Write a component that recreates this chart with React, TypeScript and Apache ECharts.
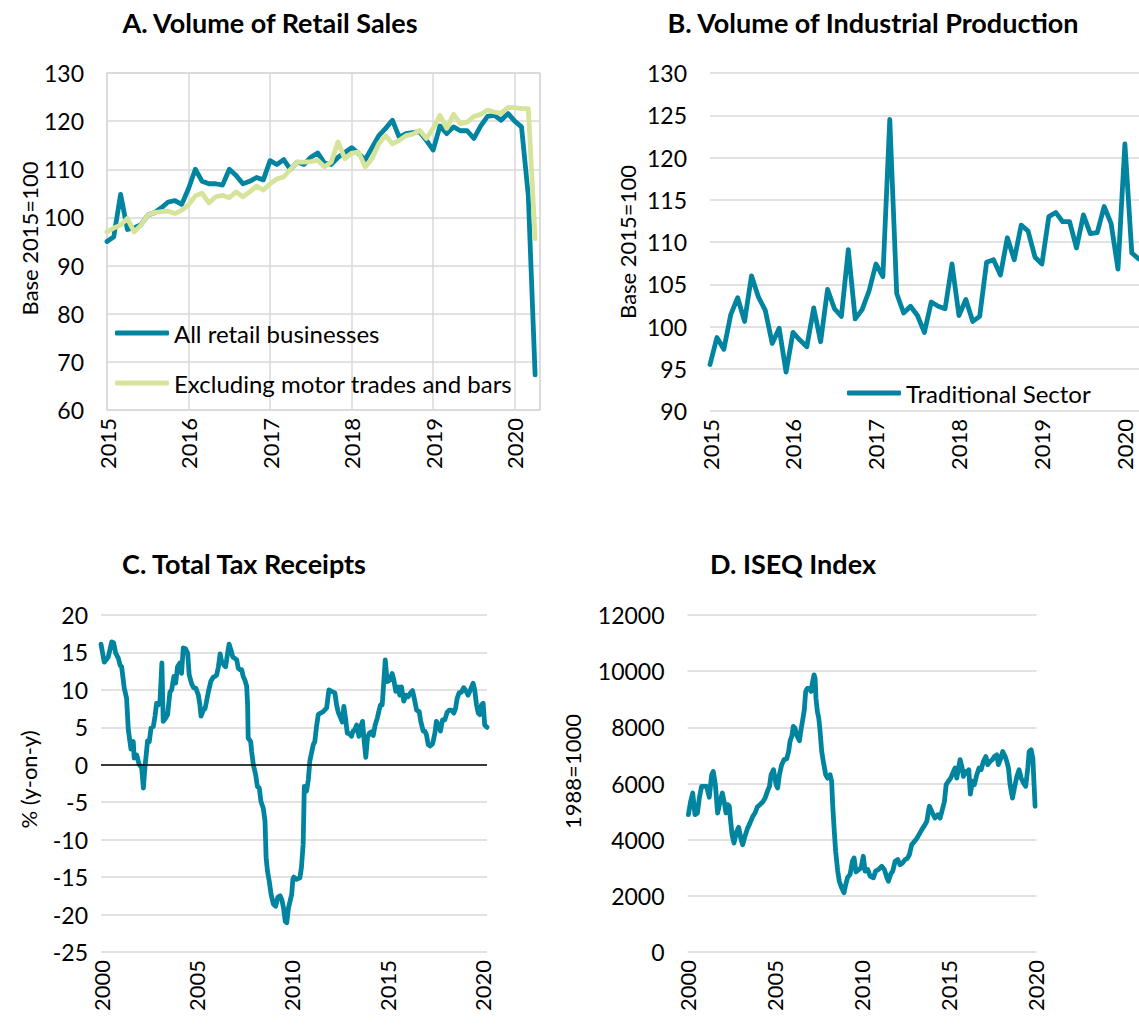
import React, { useEffect, useRef } from 'react';
import * as echarts from 'echarts';

const FONT = 'Lato, "Noto Sans", sans-serif';
const TEAL = '#00849f';
const LIME = '#d5e39b';
const GRID_GRAY = '#d9d9d9';
const TEXT = '#000000';

// Panel A: monthly, Jan 2015 – Apr 2020 (Base 2015=100)
const retailStartYear = 2015;
const retailAll = [
  95, 96, 104.8, 97.5, 97.8, 98.5, 100.5, 101, 102, 103.2, 103.5, 102.7,
  106, 110, 107.5, 107, 107, 106.7, 110, 108.7, 107, 107.5, 108.3, 107.8,
  111.8, 111, 112, 110, 111.5, 111, 112.5, 113.4, 111.3, 111, 112.5, 113.5,
  114.5, 113.3, 112, 114.5, 117, 118.5, 120.2, 116.7, 117.4, 117.6, 117.8, 116,
  114, 119, 117.4, 118.8, 118, 118, 116.4, 119, 121, 121.2, 120.2, 121.6,
  120, 118.8, 104.5, 67.3,
];
const retailExMotor = [
  97, 97.8, 98.4, 99.8, 97, 98.4, 100.5, 101, 101.2, 101.3, 100.8, 101.5,
  102.6, 104.5, 105, 103, 104.3, 104.6, 104.1, 105.3, 104.3, 105.3, 106.5, 105.7,
  107, 108, 108.4, 110, 111.5, 111.5, 111.6, 111.9, 110.5, 111.5, 115.7, 112.2,
  113.3, 113.6, 110.5, 112.2, 115.3, 117, 115.3, 116, 117, 117.3, 118.1, 116.4,
  118.5, 121.2, 118.5, 121.4, 119.5, 119.8, 121, 121.4, 122.3, 121.9, 121.6, 122.8,
  122.8, 122.6, 122.6, 95.6,
];

// Panel B: monthly, Jan 2015 – Mar 2020
const industryStartYear = 2015;
const industryTraditional = [
  95.5, 98.7, 97.3, 101.4, 103.4, 100.6, 106, 103.5, 101.9, 98,
  99.8, 94.6, 99.3, 98.4, 97.6, 102.2, 98.2, 104.4, 102.1, 101.2,
  109.1, 100.9, 102, 104.2, 107.4, 105.9, 124.5, 103.9, 101.6, 102.4,
  101.3, 99.3, 102.9, 102.4, 102.1, 107.4, 101.3, 103.2, 100.6, 101.2,
  107.6, 107.9, 106.1, 110.5, 107.9, 112, 111.3, 108.2, 107.4, 113,
  113.5, 112.4, 112.4, 109.3, 113.2, 111, 111.1, 114.2, 112.2, 106.8,
  121.6, 108.7, 108,
];

// Panel C: total tax receipts, % y-on-y (date as decimal year)
const taxDates = [
  2000.0, 2000.17, 2000.38, 2000.56, 2000.66, 2000.77, 2000.91, 2001.0, 2001.08, 2001.22,
  2001.34, 2001.43, 2001.57, 2001.69, 2001.74, 2001.87, 2001.99, 2002.13, 2002.22, 2002.3,
  2002.44, 2002.53, 2002.62, 2002.74, 2002.83, 2002.91, 2003.0, 2003.09, 2003.19, 2003.26,
  2003.38, 2003.49, 2003.61, 2003.7, 2003.82, 2003.91, 2004.01, 2004.13, 2004.22, 2004.31,
  2004.43, 2004.54, 2004.62, 2004.75, 2004.85, 2004.97, 2005.1, 2005.18, 2005.24, 2005.36,
  2005.45, 2005.53, 2005.62, 2005.76, 2005.88, 2005.97, 2006.06, 2006.15, 2006.24, 2006.32,
  2006.45, 2006.53, 2006.62, 2006.71, 2006.81, 2006.9, 2007.02, 2007.11, 2007.19, 2007.28,
  2007.37, 2007.45, 2007.54, 2007.63, 2007.68, 2007.71, 2007.84, 2007.89, 2007.98, 2008.1,
  2008.19, 2008.29, 2008.38, 2008.5, 2008.59, 2008.65, 2008.72, 2008.81, 2008.91, 2009.03,
  2009.15, 2009.26, 2009.38, 2009.47, 2009.56, 2009.65, 2009.73, 2009.82, 2009.99, 2010.05,
  2010.1, 2010.24, 2010.42, 2010.5, 2010.59, 2010.65, 2010.77, 2010.86, 2010.94, 2011.03,
  2011.12, 2011.2, 2011.29, 2011.38, 2011.5, 2011.64, 2011.82, 2011.94, 2012.08, 2012.25,
  2012.34, 2012.43, 2012.51, 2012.64, 2012.72, 2012.81, 2012.9, 2013.0, 2013.12, 2013.21,
  2013.3, 2013.39, 2013.51, 2013.61, 2013.7, 2013.77, 2013.87, 2013.96, 2014.05, 2014.17,
  2014.26, 2014.36, 2014.47, 2014.55, 2014.64, 2014.73, 2014.78, 2014.89, 2014.99, 2015.13,
  2015.25, 2015.34, 2015.44, 2015.57, 2015.65, 2015.74, 2015.86, 2015.97, 2016.09, 2016.21,
  2016.32, 2016.44, 2016.53, 2016.67, 2016.75, 2016.88, 2016.96, 2017.05, 2017.14, 2017.23,
  2017.37, 2017.49, 2017.57, 2017.7, 2017.78, 2017.89, 2018.01, 2018.13, 2018.24, 2018.36,
  2018.48, 2018.57, 2018.66, 2018.76, 2018.88, 2019.0, 2019.11, 2019.23, 2019.35, 2019.49,
  2019.58, 2019.67, 2019.76, 2019.84, 2019.93, 2020.02, 2020.1, 2020.22,
];
const taxValues = [
  16.1, 13.7, 14.4, 16.4, 16.3, 14.9, 14.2, 13.3, 13.1, 10.2,
  8.9, 4.7, 2.1, 3.1, 0.9, 1.3, 0.1, -0.4, -3.1, -0.4,
  3.2, 3.1, 4.9, 5.1, 6.5, 8.2, 8.0, 8.5, 13.6, 5.8,
  6.2, 6.7, 9.7, 10.0, 11.8, 10.9, 13.1, 13.6, 12.2, 15.6,
  15.5, 14.9, 12.0, 10.8, 10.3, 10.2, 9.3, 8.0, 6.5, 7.3,
  7.5, 8.5, 9.7, 11.2, 11.7, 11.8, 12.0, 13.1, 14.8, 13.8,
  13.3, 13.1, 14.7, 16.1, 15.3, 14.4, 14.2, 14.0, 12.9, 12.7,
  12.7, 11.8, 11.3, 10.5, 8.0, 3.6, 3.1, 1.8, 0.0, -1.3,
  -2.9, -3.1, -4.9, -5.8, -7.5, -12.4, -14.2, -15.5, -17.3, -18.6,
  -18.9, -17.7, -17.5, -18.0, -19.1, -20.9, -21.1, -19.1, -17.3, -15.3,
  -15.0, -15.3, -15.1, -13.7, -10.6, -2.9, -3.5, -2.0, 0.5, 1.6,
  2.7, 3.1, 5.1, 6.7, 6.9, 7.1, 7.6, 10.0, 9.8, 9.6,
  8.0, 7.0, 6.5, 5.7, 7.8, 6.2, 4.2, 4.2, 3.8, 4.5,
  4.7, 5.3, 3.8, 5.1, 5.8, 3.6, 1.0, 3.6, 4.2, 4.4,
  3.9, 5.3, 6.2, 7.1, 8.0, 8.0, 9.8, 14.0, 11.1, 11.3,
  12.2, 11.3, 9.8, 10.4, 9.3, 10.4, 8.5, 9.3, 9.1, 9.6,
  9.9, 8.5, 7.3, 7.1, 5.8, 4.5, 4.5, 4.0, 2.7, 2.5,
  2.8, 4.2, 5.8, 5.1, 4.5, 6.0, 6.0, 7.0, 7.3, 7.3,
  6.9, 7.5, 8.9, 9.6, 9.7, 10.3, 9.9, 9.3, 10.0, 10.9,
  9.9, 8.0, 6.9, 6.7, 8.0, 8.2, 5.3, 5.0,
];

// Panel D: ISEQ index (1988=1000), date as decimal year
const iseqDates = [
  2000.05, 2000.18, 2000.3, 2000.43, 2000.57, 2000.68, 2000.81, 2000.95, 2001.1, 2001.25,
  2001.39, 2001.48, 2001.6, 2001.73, 2001.87, 2002.0, 2002.12, 2002.21, 2002.31, 2002.4,
  2002.48, 2002.56, 2002.67, 2002.83, 2002.94, 2003.06, 2003.17, 2003.3, 2003.46, 2003.59,
  2003.75, 2003.88, 2004.01, 2004.17, 2004.32, 2004.46, 2004.59, 2004.71, 2004.8, 2004.94,
  2005.09, 2005.18, 2005.28, 2005.41, 2005.55, 2005.7, 2005.81, 2005.89, 2005.99, 2006.08,
  2006.18, 2006.27, 2006.43, 2006.52, 2006.62, 2006.71, 2006.79, 2006.89, 2007.0, 2007.1,
  2007.17, 2007.27, 2007.33, 2007.38, 2007.46, 2007.54, 2007.61, 2007.71, 2007.8, 2007.94,
  2008.05, 2008.19, 2008.28, 2008.34, 2008.42, 2008.51, 2008.63, 2008.72, 2008.86, 2008.99,
  2009.09, 2009.2, 2009.34, 2009.47, 2009.57, 2009.68, 2009.86, 2009.97, 2010.1, 2010.2,
  2010.35, 2010.49, 2010.68, 2010.81, 2010.97, 2011.16, 2011.31, 2011.45, 2011.54, 2011.68,
  2011.79, 2011.93, 2012.08, 2012.21, 2012.35, 2012.5, 2012.63, 2012.75, 2012.88, 2013.04,
  2013.17, 2013.3, 2013.46, 2013.59, 2013.75, 2013.84, 2013.9, 2014.07, 2014.22, 2014.38,
  2014.51, 2014.64, 2014.76, 2014.86, 2014.99, 2015.12, 2015.24, 2015.37, 2015.47, 2015.57,
  2015.66, 2015.76, 2015.85, 2015.95, 2016.04, 2016.16, 2016.25, 2016.37, 2016.48, 2016.62,
  2016.75, 2016.87, 2017.0, 2017.14, 2017.25, 2017.39, 2017.52, 2017.63, 2017.77, 2017.86,
  2018.0, 2018.11, 2018.25, 2018.34, 2018.44, 2018.53, 2018.67, 2018.78, 2018.92, 2019.05,
  2019.17, 2019.3, 2019.43, 2019.55, 2019.63, 2019.74, 2019.84, 2019.91, 2019.97,
];
const iseqValues = [
  4890, 5360, 5660, 4890, 4950, 5480, 5900, 5900, 5900, 5510,
  6310, 6430, 5960, 4950, 5360, 5660, 5300, 4950, 5250, 5190,
  4650, 4180, 3880, 4300, 4440, 4060, 3820, 4120, 4420, 4590,
  4830, 4950, 5160, 5250, 5340, 5480, 5720, 5900, 6310, 6490,
  5960, 5840, 6310, 6670, 6850, 6880, 7140, 7500, 7680, 8030,
  7970, 7730, 7520, 7910, 8270, 8620, 9280, 9390, 9390, 9280,
  9570, 9870, 9750, 9040, 8560, 8330, 7910, 7140, 6790, 6310,
  6190, 6310, 6080, 5250, 4420, 3590, 2880, 2520, 2280, 2110,
  2400, 2660, 2760, 3230, 3350, 2850, 2940, 2990, 3410, 2880,
  2940, 2700, 2640, 2880, 2940, 3050, 2940, 2660, 2520, 2780,
  2880, 3230, 3290, 3110, 3170, 3290, 3330, 3470, 3820, 3940,
  4040, 4180, 4360, 4480, 4650, 5010, 5190, 4950, 4770, 4890,
  4770, 5070, 5360, 5960, 6080, 6190, 6370, 6550, 6190, 6550,
  6850, 6610, 6250, 6430, 6370, 6490, 5620, 6080, 5960, 6310,
  6550, 6490, 6790, 6960, 6670, 6790, 6850, 6960, 7020, 6670,
  6900, 7140, 6960, 6790, 6550, 5960, 5480, 5840, 6250, 6490,
  6190, 6020, 5900, 6550, 7140, 7200, 6900, 5960, 5190,
];

const monthly = (start: number, values: number[]) => values.map((v, i) => [start + i / 12, v]);
const pairs = (dates: number[], values: number[]) => dates.map((d, i) => [d, values[i]]);

const yearLabel = (v: number) => (Math.abs(v - Math.round(v)) < 1e-6 ? String(Math.round(v)) : '');

const baseText = { fontFamily: FONT, color: TEXT };

function xAxisOf(gridIndex: number, min: number, max: number, interval: number, vLines: boolean) {
  return {
    type: 'value',
    gridIndex,
    min,
    max,
    interval,
    axisLine: { show: false },
    axisTick: { show: false },
    splitLine: { show: vLines, lineStyle: { color: GRID_GRAY, width: 1.5 } },
    axisLabel: {
      ...baseText,
      fontSize: 22,
      rotate: 90,
      margin: 8,
      showMaxLabel: false,
      formatter: yearLabel,
    },
  };
}

function yAxisOf(gridIndex: number, min: number, max: number, interval: number, name: string, nameGap: number, labelMargin: number, namePad: number) {
  return {
    type: 'value',
    gridIndex,
    min,
    max,
    interval,
    name,
    nameLocation: 'middle',
    nameGap,
    nameRotate: 90,
    nameTextStyle: { ...baseText, fontSize: 22, padding: [0, 0, 0, namePad] },
    axisLine: { show: false },
    axisTick: { show: false },
    splitLine: { show: true, lineStyle: { color: GRID_GRAY, width: 1.5 } },
    axisLabel: { ...baseText, fontSize: 23, margin: labelMargin, formatter: (v: number) => String(v) },
  };
}

function lineSeries(name: string, idx: number, data: number[][], color: string, extra: any = {}) {
  return {
    type: 'line',
    name,
    xAxisIndex: idx,
    yAxisIndex: idx,
    data,
    color,
    symbol: 'none',
    showSymbol: false,
    lineStyle: { color, width: 4.8, cap: 'round', join: 'round' },
    itemStyle: { color },
    emphasis: { disabled: true },
    ...extra,
  };
}

export default function App() {
  const ref = useRef<HTMLDivElement>(null);

  useEffect(() => {
    if (!ref.current) return;
    const chart = echarts.init(ref.current, undefined, { renderer: 'svg' });

    const titleStyle = { ...baseText, fontSize: 27, fontWeight: 'bold' };
    const legendText = { ...baseText, fontSize: 24, lineHeight: 26 };
    const option: any = {
      animation: false,
      backgroundColor: '#ffffff',
      textStyle: { fontFamily: FONT },
      title: [
        { text: 'A. Volume of Retail Sales', left: 270, top: 9, textAlign: 'center', padding: 0, textStyle: titleStyle },
        { text: 'B. Volume of Industrial Production', left: 873, top: 9, textAlign: 'center', padding: 0, textStyle: titleStyle },
        { text: 'C. Total Tax Receipts', left: 244, top: 550, textAlign: 'center', padding: 0, textStyle: titleStyle },
        { text: 'D. ISEQ Index', left: 793, top: 550, textAlign: 'center', padding: 0, textStyle: titleStyle },
      ],
      legend: [
        {
          data: ['All retail businesses', 'Excluding motor trades and bars'],
          orient: 'vertical',
          left: 115,
          top: 320,
          padding: 0,
          itemWidth: 54,
          itemHeight: 5,
          itemGap: 24,
          icon: 'roundRect',
          selectedMode: false,
          textStyle: legendText,
        },
        {
          data: ['Traditional Sector'],
          orient: 'vertical',
          left: 847,
          top: 380,
          padding: 0,
          itemWidth: 54,
          itemHeight: 5,
          icon: 'roundRect',
          selectedMode: false,
          textStyle: legendText,
        },
      ],
      grid: [
        { left: 107, top: 73, width: 433, height: 337, show: true, borderColor: GRID_GRAY, borderWidth: 1.5, backgroundColor: 'transparent' },
        { left: 710, top: 73, width: 429, height: 338 },
        { left: 101, top: 615, width: 386, height: 337 },
        { left: 687.5, top: 615, width: 349, height: 337 },
      ],
      xAxis: [
        xAxisOf(0, 2015, 2020.31, 1, true),
        xAxisOf(1, 2015, 2020.17, 1, false),
        xAxisOf(2, 2000, 2020.22, 5, false),
        xAxisOf(3, 2000, 2020.05, 5, false),
      ],
      yAxis: [
        yAxisOf(0, 60, 130, 10, 'Base 2015=100', 63, 23, 6),
        yAxisOf(1, 90, 130, 5, 'Base 2015=100', 72, 23, 0),
        yAxisOf(2, -25, 20, 5, '% (y-on-y)', 62, 13, 8),
        yAxisOf(3, 0, 12000, 2000, '1988=1000', 104, 23, 24),
      ],
      series: [
        lineSeries('All retail businesses', 0, monthly(retailStartYear, retailAll), TEAL),
        lineSeries('Excluding motor trades and bars', 0, monthly(retailStartYear, retailExMotor), LIME),
        lineSeries('Traditional Sector', 1, monthly(industryStartYear, industryTraditional), TEAL),
        lineSeries('Total Tax Receipts', 2, pairs(taxDates, taxValues), TEAL, {
          markLine: {
            silent: true,
            symbol: 'none',
            label: { show: false },
            lineStyle: { color: '#000000', width: 1.5, type: 'solid' },
            data: [{ yAxis: 0 }],
          },
        }),
        lineSeries('ISEQ Index', 3, pairs(iseqDates, iseqValues), TEAL),
      ],
    };

    chart.setOption(option);
    return () => chart.dispose();
  }, []);

  return (
    <div
      ref={ref}
      style={{ position: 'absolute', left: 0, top: 0, width: 1139, height: 1026, background: '#fff' }}
    />
  );
}
